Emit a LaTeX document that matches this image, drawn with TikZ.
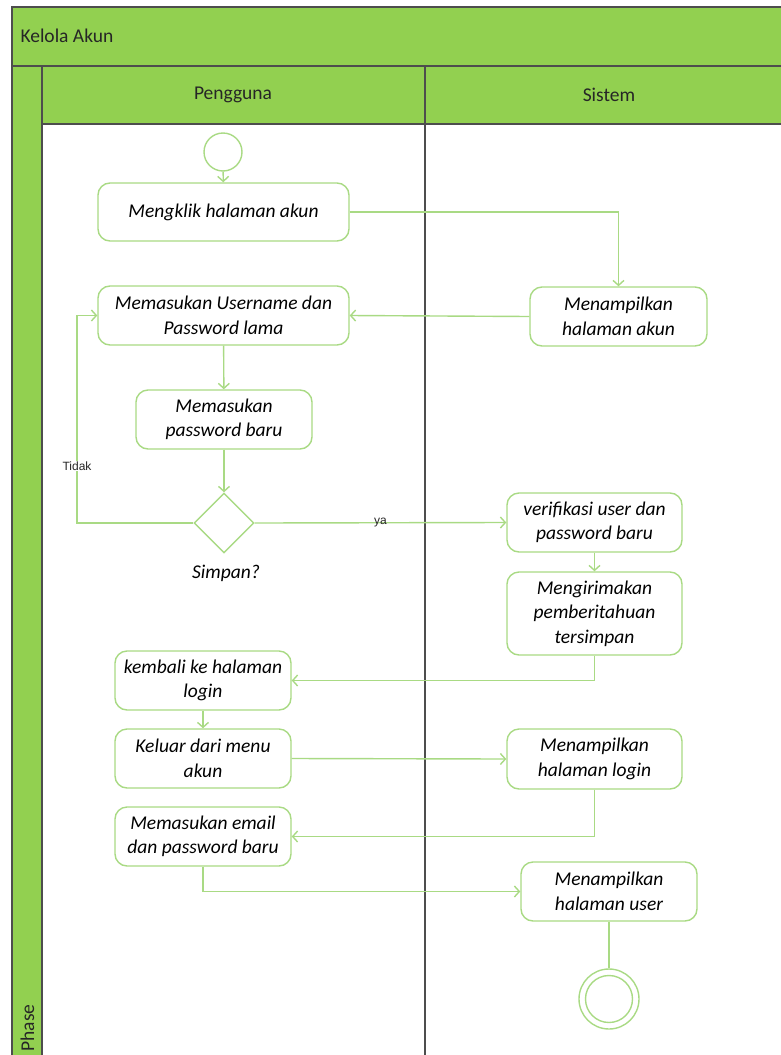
\documentclass[tikz,border=0pt]{standalone}
\usepackage{fontspec}
\setmainfont{Carlito}
\newfontfamily\labelfont{Liberation Sans}
\usetikzlibrary{shapes.geometric,arrows.meta}

\definecolor{lanegreen}{HTML}{92D050}
\definecolor{flowgreen}{HTML}{A9DA84}
\definecolor{laneline}{HTML}{4D4D4D}

\tikzset{
  act/.style={draw=flowgreen, line width=1.4pt, rounded corners=12pt, fill=white,
    align=center, inner sep=0pt, font=\fontsize{19.5}{24.5}\selectfont\itshape},
  flow/.style={draw=flowgreen, line width=1.4pt, -{Straight Barb[length=5pt,width=11pt]}},
  plainflow/.style={draw=flowgreen, line width=1.4pt},
  lane/.style={draw=laneline, line width=1.6pt},
  headtext/.style={font=\fontsize{19.5}{22}\selectfont, text=black!85},
  guard/.style={font=\labelfont\fontsize{12}{14}\selectfont, text=black!85, inner sep=1pt},
}

\begin{document}
\begin{tikzpicture}[x=1pt,y=-1pt]
\useasboundingbox (0,0) rectangle (781,1055);

% swimlane frame
\fill[lanegreen] (12,7) rectangle (785,124);
\fill[lanegreen] (12,66) rectangle (42,1060);
\draw[lane] (12,1060) -- (12,7) -- (785,7);
\draw[lane] (12,66) -- (785,66);
\draw[lane] (42,66) -- (42,1060);
\draw[lane] (42,124) -- (785,124);
\draw[lane] (425,66) -- (425,1060);

\node[headtext, anchor=west] (pool) at (17,36) {Kelola Akun};
\node[headtext] (lanea) at (233,95) {Pengguna};
\node[headtext] (laneb) at (609,95) {Sistem};
\node[headtext, rotate=90, anchor=west] (phase) at (27.5,1055) {Phase};

% activities
\node[draw=flowgreen, line width=1.4pt, circle, minimum size=38pt, inner sep=0pt] (start) at (223,152) {};
\node[act, minimum width=251pt, minimum height=58pt] (klik) at (223.5,212) {Mengklik halaman akun};
\node[act, minimum width=177pt, minimum height=59pt] (tampilakun) at (618.5,316.5) {Menampilkan\\halaman akun};
\node[act, minimum width=251pt, minimum height=59pt] (userlama) at (223.5,315.5) {Memasukan Username dan\\Password lama};
\node[act, minimum width=176pt, minimum height=59pt] (pwbaru) at (224,419.5) {Memasukan\\password baru};
\node[draw=flowgreen, line width=1.4pt, diamond, aspect=1, minimum size=60pt, inner sep=0pt] (simpan) at (224,523) {};
\node[font=\fontsize{19.5}{22}\selectfont\itshape] (simpanlbl) at (226,573) {Simpan?};
\node[act, minimum width=175pt, minimum height=59pt] (verif) at (594.5,522.5) {verifikasi user dan\\password baru};
\node[act, minimum width=175pt, minimum height=83pt] (kirim) at (594.5,613.5) {Mengirimakan\\pemberitahuan\\tersimpan};
\node[act, minimum width=176pt, minimum height=59pt] (kembali) at (203,680.5) {kembali ke halaman\\login};
\node[act, minimum width=176pt, minimum height=59pt] (keluar) at (203,758.5) {Keluar dari menu\\akun};
\node[act, minimum width=175pt, minimum height=60pt] (tampillogin) at (594.5,759) {Menampilkan\\halaman login};
\node[act, minimum width=176pt, minimum height=59pt] (email) at (203,836.5) {Memasukan email\\dan password baru};
\node[act, minimum width=176pt, minimum height=59pt] (tampiluser) at (609,891.5) {Menampilkan\\halaman user};
\node[draw=flowgreen, line width=1.4pt, circle, minimum size=60pt, inner sep=0pt] (finish) at (609,999) {};
\node[draw=flowgreen, line width=1.4pt, circle, minimum size=47pt, inner sep=0pt] (finishin) at (609,999) {};

% connectors
\coordinate (loopturn) at (77,523);
\draw[flow] (start) -- (klik);
\draw[flow] (klik.east) -| (tampilakun.north);
\draw[flow] (tampilakun.west) -- (userlama.east);
\draw[flow] (userlama) -- (pwbaru);
\draw[flow] (pwbaru) -- (simpan.north);
\draw[flow] (simpan.west) -- (loopturn) |- (userlama.west);
\draw[flow] (simpan.east) -- node[guard, pos=0.5] (ya) {ya} (verif.west);
\draw[flow] (verif) -- (kirim);
\draw[flow] (kirim.south) |- (kembali.east);
\draw[flow] (kembali) -- (keluar);
\draw[flow] (keluar.east) -- (tampillogin.west);
\draw[flow] (tampillogin.south) |- (email.east);
\draw[flow] (email.south) |- (tampiluser.west);
\draw[plainflow] (tampiluser) -- (finish);

\node[guard, fill=white] (tidak) at (77,466) {Tidak};
\end{tikzpicture}
\end{document}
